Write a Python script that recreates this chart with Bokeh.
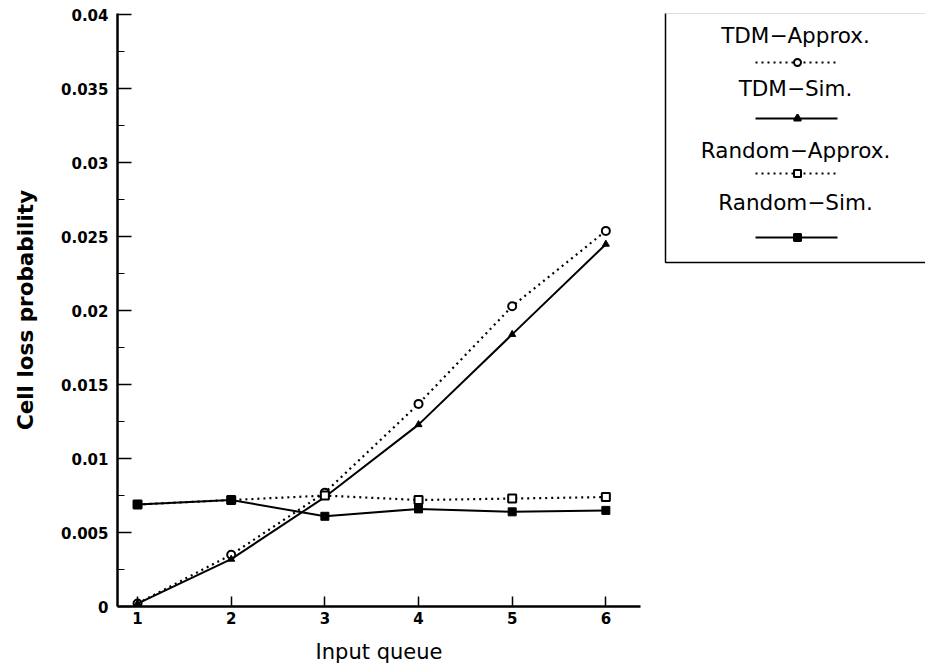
from bokeh.plotting import figure
from bokeh.layouts import row
from bokeh.models import Range1d, FixedTicker
from bokeh.core.properties import value
from bokeh.embed import file_html
from bokeh.resources import INLINE

queues = [1, 2, 3, 4, 5, 6]
tdm_approx = [0.0002, 0.0035, 0.0077, 0.0137, 0.0203, 0.0254]
tdm_sim = [0.0002, 0.0032, 0.0074, 0.0123, 0.0184, 0.0245]
rand_approx = [0.0069, 0.0072, 0.0075, 0.0072, 0.0073, 0.0074]
rand_sim = [0.0069, 0.0072, 0.0061, 0.0066, 0.0064, 0.0065]

y_ticks = [0, 0.005, 0.01, 0.015, 0.02, 0.025, 0.03, 0.035, 0.04]
y_tick_labels = ["0", "0.005", "0.01", "0.015", "0.02", "0.025", "0.03", "0.035", "0.04"]
y_minor = [0.0025, 0.0075, 0.0125, 0.0175, 0.0225, 0.0275, 0.0325, 0.0375]
legend_names = ["TDM\u2212Approx.", "TDM\u2212Sim.", "Random\u2212Approx.", "Random\u2212Sim."]

FONT = "DejaVu Sans"

p = figure(width=660, height=669, output_backend="svg", toolbar_location=None,
           x_range=Range1d(0.786, 6.37), y_range=Range1d(0, 0.0401),
           min_border_left=117, min_border_right=20, min_border_top=13, min_border_bottom=63)
p.outline_line_color = None
p.grid.visible = False
p.background_fill_color = "white"
p.border_fill_color = "white"

p.xaxis.ticker = FixedTicker(ticks=queues)
p.yaxis.ticker = FixedTicker(ticks=y_ticks, minor_ticks=y_minor)
p.yaxis.major_label_overrides = {t: l for t, l in zip(y_ticks, y_tick_labels)}
for ax in (p.xaxis, p.yaxis):
    ax.axis_line_width = 2.5
    ax.axis_line_color = "black"
    ax.major_tick_line_color = "black"
    ax.major_tick_line_width = 1.5
    ax.minor_tick_line_color = "black"
    ax.minor_tick_line_width = 1.2
    ax.major_tick_out = 0
    ax.minor_tick_out = 0
    ax.major_label_text_font = FONT
    ax.major_label_text_font_style = "bold"
    ax.major_label_text_font_size = "15px"
    ax.major_label_text_color = "black"
    ax.axis_label_text_font = FONT
    ax.axis_label_text_color = "black"
p.yaxis.major_tick_in = 14
p.yaxis.minor_tick_in = 7
p.xaxis.major_tick_in = 10
p.xaxis.minor_tick_in = 0
p.xaxis.minor_tick_line_color = None
p.yaxis.major_label_standoff = 9
p.xaxis.major_label_standoff = 5
p.xaxis.axis_label = "Input queue"
p.xaxis.axis_label_text_font_size = "21px"
p.xaxis.axis_label_text_font_style = "normal"
p.yaxis.axis_label = "Cell loss probability"
p.yaxis.axis_label_text_font_size = "21.5px"
p.yaxis.axis_label_text_font_style = "bold"
p.yaxis.axis_label_standoff = 20
p.xaxis.axis_label_standoff = 13

# series
p.line(queues, tdm_approx, line_color="black", line_width=2.2, line_dash="2 4")
p.scatter(queues, tdm_approx, marker="circle", size=8, fill_color="white", line_color="black", line_width=2)
p.line(queues, tdm_sim, line_color="black", line_width=2)
p.scatter(queues, tdm_sim, marker="triangle", size=7, fill_color="black", line_color="black")
p.line(queues, rand_approx, line_color="black", line_width=2.2, line_dash="2 4")
p.scatter(queues, rand_approx, marker="square", size=8, fill_color="white", line_color="black", line_width=2)
p.line(queues, rand_sim, line_color="black", line_width=2)
p.scatter(queues, rand_sim, marker="square", size=8, fill_color="black", line_color="black")

# legend panel (its frame is aligned with the main frame: pixel rows 13..606)
lg = figure(width=265, height=669, output_backend="svg", toolbar_location=None,
            x_range=Range1d(0, 265), y_range=Range1d(606, 13),
            min_border_left=0, min_border_right=0, min_border_top=13, min_border_bottom=63)
lg.outline_line_color = None
lg.axis.visible = False
lg.grid.visible = False
lg.quad(left=[5], right=[300], top=[12], bottom=[262], fill_color="white",
        line_color="black", line_width=1.5)
text_y = [35, 88, 150, 202]
sample_y = [62, 118, 173, 237]
dashes = ["2 4", "solid", "2 4", "solid"]
markers = ["circle", "triangle", "square", "square"]
fills = ["white", "black", "white", "black"]
lg.text(x=[135] * 4, y=text_y, text=legend_names, text_font=value(FONT),
        text_font_size="21.5px", text_align="center", text_baseline="middle", text_color="black")
for sy, d, m, f in zip(sample_y, dashes, markers, fills):
    lg.line([95, 177], [sy, sy], line_color="black", line_width=2, line_dash=d)
    lg.scatter([137], [sy], marker=m, size=7, fill_color=f, line_color="black", line_width=2)

layout = row(p, lg)
open("out.html", "w").write(file_html(layout, INLINE))
